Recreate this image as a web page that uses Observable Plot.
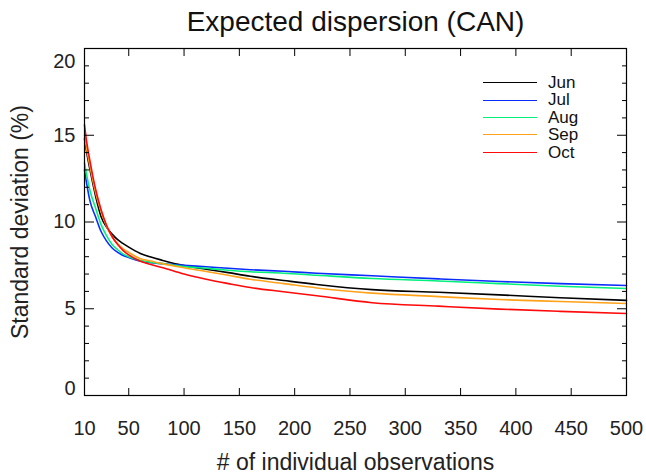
<!DOCTYPE html>
<html><head><meta charset="utf-8">
<script src="https://cdn.jsdelivr.net/npm/d3@7"></script>
<script src="https://cdn.jsdelivr.net/npm/@observablehq/plot@0.6"></script>
<style>
body{margin:0;background:#fff;}
#wrap{position:relative;width:646px;height:474px;font-family:"Liberation Sans",Arial,sans-serif;}
#legend{position:absolute;left:483px;top:74px;font-size:17px;color:#111;line-height:17.4px;}
.row{display:flex;align-items:center;height:17.4px;}
.sw{width:54px;height:0;border-top:1.7px solid;margin-right:11px;}
</style></head><body><div id="wrap"><div id="legend"></div></div>
<script>
const months = ["Jun","Jul","Aug","Sep","Oct"];
const colors = ["#000000","#0a2cff","#00f07a","#ffa21a","#ff0a0a"];
const nObs = [10,12,15,20,25,30,35,40,45,50,60,70,80,100,120,140,160,190,220,270,330,385,440,500];
const jun = [14.8,14.0,13.0,11.5,10.3,9.7,9.3,8.98,8.75,8.55,8.2,7.98,7.8,7.49,7.28,7.08,6.87,6.63,6.4,6.1,5.95,5.8,5.63,5.48];
const jul = [13.0,12.2,11.2,10.3,9.45,8.9,8.5,8.25,8.07,7.95,7.75,7.65,7.6,7.5,7.42,7.33,7.25,7.16,7.05,6.9,6.72,6.57,6.45,6.34];
const aug = [13.4,12.7,11.8,10.8,9.85,9.2,8.7,8.4,8.15,8.0,7.8,7.68,7.6,7.43,7.33,7.22,7.13,7.05,6.93,6.74,6.6,6.45,6.3,6.17];
const sep = [15.0,14.2,13.2,11.7,10.6,9.75,9.15,8.75,8.45,8.25,7.9,7.75,7.6,7.36,7.15,6.93,6.7,6.45,6.2,5.9,5.7,5.53,5.42,5.3];
const oct = [15.6,14.6,13.5,11.9,10.7,9.8,9.15,8.7,8.35,8.1,7.75,7.55,7.38,7.0,6.7,6.45,6.22,5.98,5.75,5.35,5.15,4.98,4.85,4.73];
const xTickLabels = [10,50,100,150,200,250,300,350,400,450,500];
const xTickMarks = [50,100,150,200,250,300,350,400,450];
const yMajorTicks = [0,5,10,15,20];
const yMidLabels = [5,10,15];
const yMinorTicks = [1,2,3,4,6,7,8,9,11,12,13,14,16,17,18,19];
const titleText = "Expected dispersion (CAN)";
const xTitle = "# of individual observations";
const yTitle = "Standard deviation (%)";

const series = [jun, jul, aug, sep, oct];
const data = months.flatMap((m, i) => nObs.map((n, j) => ({month: m, n, sd: series[i][j]})));

const font = "'Liberation Sans', Arial, sans-serif";
const txt = "#222";

const chart = Plot.plot({
  width: 646, height: 474,
  marginTop: 48, marginBottom: 79, marginLeft: 84, marginRight: 20,
  style: {fontFamily: font, background: "white", color: txt, overflow: "visible"},
  x: {domain: [10, 500]},
  y: {domain: [0, 20]},
  color: {domain: months, range: colors},
  marks: [
    Plot.line(data, {x: "n", y: "sd", stroke: "month", z: "month", strokeWidth: 1.6, curve: "monotone-x"}),
    Plot.frame({stroke: "#000", strokeWidth: 1.2}),
    Plot.axisX(xTickLabels, {anchor: "bottom", tickSize: 0, tickPadding: 25, fontSize: 20, label: null, fill: txt}),
    Plot.axisX(xTickMarks, {anchor: "bottom", tickSize: -7, text: null, label: null, stroke: "#000"}),
    Plot.axisX(xTickMarks, {anchor: "top", tickSize: -7, text: null, label: null, stroke: "#000"}),
    Plot.axisY(yMidLabels, {anchor: "left", tickSize: 0, tickPadding: 9, fontSize: 20, label: null, fill: txt}),
    Plot.axisY([20], {anchor: "left", tickSize: 0, tickPadding: 9, fontSize: 20, label: null, fill: txt, dy: 13}),
    Plot.axisY([0], {anchor: "left", tickSize: 0, tickPadding: 9, fontSize: 20, label: null, fill: txt, dy: -7}),
    Plot.axisY(yMajorTicks, {anchor: "left", tickSize: -10, text: null, label: null, stroke: "#000"}),
    Plot.axisY(yMinorTicks, {anchor: "left", tickSize: -5, text: null, label: null, stroke: "#000"}),
    Plot.axisY(yMajorTicks, {anchor: "right", tickSize: -10, text: null, label: null, stroke: "#000"}),
    Plot.axisY(yMinorTicks, {anchor: "right", tickSize: -5, text: null, label: null, stroke: "#000"}),
    Plot.text([titleText], {frameAnchor: "top", dy: -26, fontSize: 28, lineAnchor: "middle", fill: "#111"}),
    Plot.text([xTitle], {frameAnchor: "bottom", dy: 67, fontSize: 23, lineAnchor: "middle", fill: txt}),
    Plot.text([yTitle], {frameAnchor: "left", dx: -64, rotate: -90, fontSize: 23, textAnchor: "middle", lineAnchor: "middle", fill: txt})
  ]
});
document.getElementById("wrap").prepend(chart);

const legend = document.getElementById("legend");
months.forEach((m, i) => {
  const row = document.createElement("div");
  row.className = "row";
  const sw = document.createElement("span");
  sw.className = "sw";
  sw.style.borderTopColor = colors[i];
  const lab = document.createElement("span");
  lab.textContent = m;
  row.append(sw, lab);
  legend.append(row);
});
</script>
</body></html>
